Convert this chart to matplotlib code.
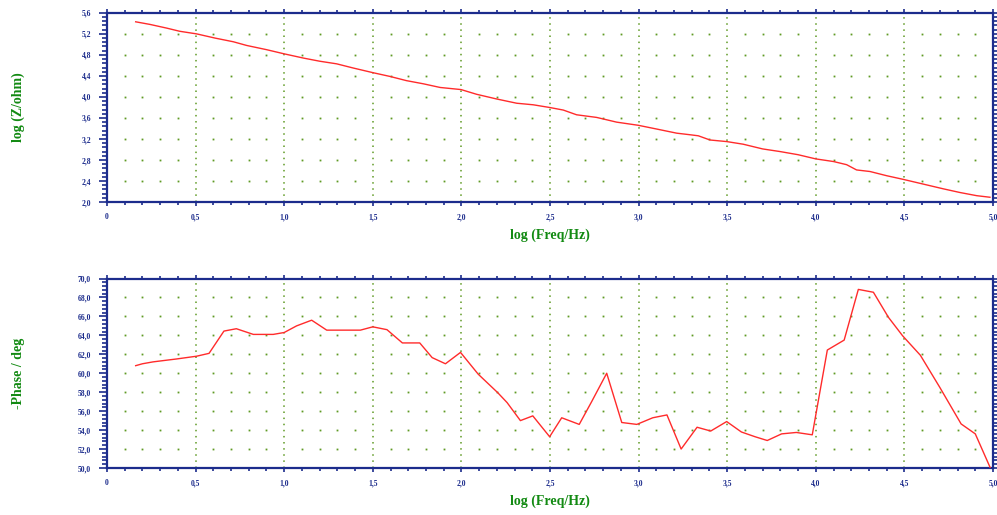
import matplotlib
matplotlib.use('Agg')
matplotlib.rcParams['font.family'] = 'serif'
matplotlib.rcParams['font.serif'] = ['Liberation Serif', 'DejaVu Serif']
matplotlib.rcParams['xtick.direction'] = 'out'
matplotlib.rcParams['ytick.direction'] = 'out'
matplotlib.rcParams['xtick.top'] = True
matplotlib.rcParams['ytick.right'] = True
import numpy as np
import matplotlib.pyplot as plt
from matplotlib.ticker import MultipleLocator, FuncFormatter

# impedance modulus, log10(|Z|/ohm) vs log10(f/Hz)
logf_z = [0.162, 0.243, 0.337, 0.41, 0.506, 0.61, 0.713, 0.788, 0.90, 1.0, 1.108,
          1.20, 1.296, 1.39, 1.503, 1.597, 1.69, 1.785, 1.88, 1.998, 2.086, 2.2,
          2.312, 2.406, 2.496, 2.575, 2.65, 2.763, 2.876, 2.998, 3.10, 3.215,
          3.29, 3.337, 3.403, 3.497, 3.59, 3.70, 3.798, 3.90, 4.0, 4.10, 4.174,
          4.23, 4.306, 4.40, 4.494, 4.607, 4.72, 4.814, 4.908, 4.983]
logz = [5.43, 5.38, 5.31, 5.25, 5.20, 5.12, 5.05, 4.98, 4.90, 4.82, 4.74,
        4.68, 4.63, 4.55, 4.46, 4.39, 4.31, 4.25, 4.18, 4.14, 4.05, 3.96,
        3.88, 3.85, 3.80, 3.75, 3.66, 3.61, 3.52, 3.46, 3.39, 3.31,
        3.28, 3.26, 3.18, 3.15, 3.10, 3.01, 2.96, 2.90, 2.82, 2.77, 2.71,
        2.61, 2.58, 2.50, 2.43, 2.34, 2.25, 2.18, 2.12, 2.09]

# phase angle (-phase, deg)
logf_p = [0.162, 0.20, 0.26, 0.346, 0.39, 0.506, 0.576, 0.66, 0.73, 0.826, 0.938,
          1.0, 1.07, 1.155, 1.24, 1.43, 1.50, 1.58, 1.667, 1.765, 1.835, 1.91,
          1.995, 2.095, 2.205, 2.258, 2.333, 2.403, 2.498, 2.566, 2.665, 2.735,
          2.82, 2.905, 2.99, 3.08, 3.16, 3.24, 3.33, 3.407, 3.497, 3.58, 3.657,
          3.726, 3.807, 3.89, 3.98, 4.065, 4.16, 4.24, 4.325, 4.41, 4.49, 4.59,
          4.70, 4.82, 4.90, 4.985]
phase = [60.8, 61.0, 61.2, 61.4, 61.5, 61.8, 62.1, 64.45, 64.7, 64.1, 64.1,
         64.3, 65.0, 65.6, 64.55, 64.55, 64.9, 64.6, 63.2, 63.2, 61.65, 61.0,
         62.2, 59.9, 57.95, 56.9, 55.0, 55.5, 53.3, 55.3, 54.6, 57.0,
         60.0, 54.8, 54.6, 55.3, 55.6, 52.0, 54.3, 53.9, 54.9, 53.8, 53.3,
         52.9, 53.6, 53.75, 53.5, 62.45, 63.5, 68.85, 68.55, 65.9, 63.95, 61.9,
         58.5, 54.65, 53.6, 50.0]

navy = '#1c2c8c'
green = '#128a12'
dotc = '#5f9a24'
red = '#ff2b2b'


def comma(v, pos):
    if abs(v) < 1e-9:
        return '0'
    return ('%.1f' % v).replace('.', ',')


def setup(ax, ylo, yhi, ymaj, ymin, ylabel):
    ax.set_xlim(0, 5)
    ax.set_ylim(ylo, yhi)
    for s in ax.spines.values():
        s.set_color(navy)
        s.set_linewidth(1.6)
    ax.xaxis.set_major_locator(MultipleLocator(0.5))
    ax.xaxis.set_minor_locator(MultipleLocator(0.1))
    ax.yaxis.set_major_locator(MultipleLocator(ymaj))
    ax.yaxis.set_minor_locator(MultipleLocator(ymin))
    ax.xaxis.set_major_formatter(FuncFormatter(comma))
    ax.yaxis.set_major_formatter(FuncFormatter(comma))
    ax.tick_params(axis='both', which='both', colors=navy, width=1.2,
                   labelsize=5.5, labelcolor=navy)
    ax.tick_params(axis='x', which='major', length=3, pad=5)
    ax.tick_params(axis='x', which='minor', length=2)
    ax.tick_params(axis='y', which='major', length=5.5, pad=6)
    ax.tick_params(axis='y', which='minor', length=3.5)
    for lab in ax.get_xticklabels() + ax.get_yticklabels():
        lab.set_fontweight('bold')

    # dotted vertical lines at major x and dot grid at minor x / major y
    xmaj = np.arange(0.5, 5.0, 0.5)
    for xv in xmaj:
        ax.axvline(xv, color=dotc, lw=1.1, ls=(0, (1, 3)), zorder=1)
    xs = [v for v in np.arange(0.1, 5.0, 0.1) if abs(v / 0.5 - round(v / 0.5)) > 1e-6]
    ys = np.arange(ylo + ymaj, yhi - ymaj / 2, ymaj)
    gx, gy = np.meshgrid(xs, ys)
    ax.plot(gx.ravel(), gy.ravel(), 's', ms=1.3, mew=0, color=dotc, zorder=1)

    ax.set_xlabel('log (Freq/Hz)', color=green, fontsize=10, fontweight='bold')
    ax.xaxis.set_label_coords(0.5, -0.14)
    ax.set_ylabel(ylabel, color=green, fontsize=10, fontweight='bold')
    ax.yaxis.set_label_coords(-0.093, 0.5)


fig = plt.figure(figsize=(9.97, 5.15), dpi=100)
ax1 = fig.add_axes([0.1073, 0.6078, 0.8887, 0.3672])
ax2 = fig.add_axes([0.1073, 0.0913, 0.8887, 0.3679])

setup(ax1, 2.0, 5.6, 0.4, 0.08, 'log (Z/ohm)')
ax1.plot(logf_z, logz, '-', color=red, lw=1.0, zorder=3)

setup(ax2, 50.0, 70.0, 2.0, 0.4, '-Phase / deg')
ax2.plot(logf_p, phase, '-', color=red, lw=1.0, zorder=3, clip_on=True)

plt.savefig('out.png', dpi=100)
plt.close()
